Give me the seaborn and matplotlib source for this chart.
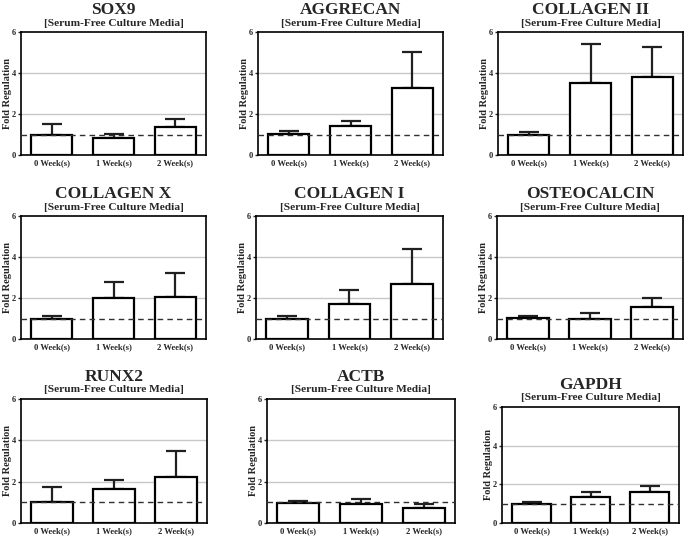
import numpy as np
import pandas as pd
import matplotlib
matplotlib.use("Agg")
import matplotlib.pyplot as plt
import seaborn as sns

weeks = ["0 Week(s)", "1 Week(s)", "2 Week(s)"]
genes = ["SOX9", "AGGRECAN", "COLLAGEN II",
         "COLLAGEN X", "COLLAGEN I", "OSTEOCALCIN",
         "RUNX2", "ACTB", "GAPDH"]
subtitle = "[Serum-Free Culture Media]"

# mean fold regulation per week
sox9 = [1.00, 0.84, 1.39]
aggrecan = [1.01, 1.42, 3.28]
collagen2 = [1.00, 3.50, 3.82]
collagen10 = [1.00, 2.02, 2.05]
collagen1 = [1.00, 1.69, 2.66]
osteocalcin = [1.02, 0.99, 1.57]
runx2 = [1.00, 1.65, 2.22]
actb = [0.98, 0.94, 0.74]
gapdh = [0.99, 1.34, 1.60]

# top of the (upper) error bar
sox9_top = [1.50, 1.01, 1.75]
aggrecan_top = [1.17, 1.65, 5.02]
collagen2_top = [1.10, 5.42, 5.26]
collagen10_top = [1.10, 2.80, 3.23]
collagen1_top = [1.12, 2.38, 4.39]
osteocalcin_top = [1.10, 1.26, 1.99]
runx2_top = [1.75, 2.10, 3.48]
actb_top = [1.08, 1.18, 0.92]
gapdh_top = [1.09, 1.62, 1.90]

means = [sox9, aggrecan, collagen2, collagen10, collagen1, osteocalcin, runx2, actb, gapdh]
tops = [sox9_top, aggrecan_top, collagen2_top, collagen10_top, collagen1_top,
        osteocalcin_top, runx2_top, actb_top, gapdh_top]

sns.set_theme(style="white")
plt.rcParams['font.family'] = ['Liberation Serif', 'DejaVu Serif']
plt.rcParams['font.weight'] = 'bold'

W, H = 685, 536
fig = plt.figure(figsize=(W / 100, H / 100), dpi=100)

# axes boxes in pixels: left, top, right, bottom
boxes = [(21, 32, 206, 155), (258, 32, 443, 155), (498, 32, 683, 155),
         (21, 216, 206, 339), (256, 216, 443, 339), (497, 216, 683, 339),
         (21, 399, 207, 523), (267, 399, 455, 523), (502, 407, 679, 523)]

for gene, m, t, (l, tp, r, b) in zip(genes, means, tops, boxes):
    ax = fig.add_axes([l / W, 1 - b / H, (r - l) / W, (b - tp) / H])
    df = pd.DataFrame({"week": weeks, "fold": m})

    ax.axhline(2, color="#c8c8c8", lw=1.0, zorder=0)
    ax.axhline(4, color="#c8c8c8", lw=1.0, zorder=0)

    sns.barplot(data=df, x="week", y="fold", color="white", edgecolor="black",
                linewidth=1.6, width=0.67, errorbar=None, ax=ax, zorder=2)
    err = np.array(t) - np.array(m)
    ax.errorbar(np.arange(3), m, yerr=[np.zeros(3), err], fmt="none",
                ecolor="#202020", elinewidth=1.6, capsize=7.5, capthick=1.6, zorder=1)
    ax.axhline(1, color="#303030", lw=1.0, ls=(0, (4, 3)), zorder=3)

    ax.set_xlim(-0.5, 2.5)
    ax.set_ylim(0, 6)
    ax.set_yticks([0, 2, 4, 6])
    ax.set_xlabel("")
    ax.set_ylabel("Fold Regulation", fontsize=7.5, fontweight="bold")
    ax.yaxis.set_label_coords(-13.5 / (r - l), 0.5)
    ax.yaxis.label.set_va("center")
    ax.tick_params(axis="y", labelsize=6, length=2.5, width=1, pad=1, left=True)
    ax.tick_params(axis="x", labelsize=6.2, length=0, pad=3)
    for lab in ax.get_xticklabels() + ax.get_yticklabels():
        lab.set_fontweight("bold")
    for s in ax.spines.values():
        s.set_color("black")
        s.set_linewidth(1.2)

    ax.annotate(gene, xy=(0.5, 1), xycoords="axes fraction", xytext=(0, 22),
                textcoords="offset pixels", ha="center", va="center",
                fontsize=12.5, fontweight="bold")
    ax.annotate(subtitle, xy=(0.5, 1), xycoords="axes fraction", xytext=(0, 9),
                textcoords="offset pixels", ha="center", va="center",
                fontsize=8.2, fontweight="bold")

fig.savefig("out.png", dpi=100)
